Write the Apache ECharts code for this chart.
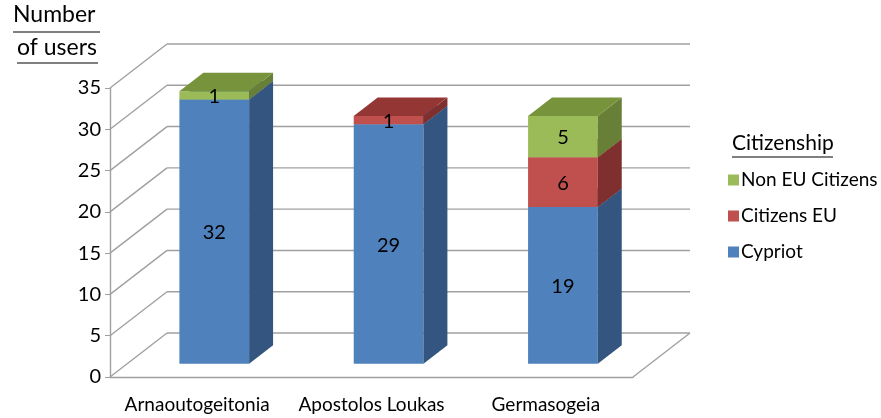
<!DOCTYPE html>
<html>
<head>
<meta charset="utf-8">
<script src="https://cdn.jsdelivr.net/npm/echarts@6/dist/echarts.min.js"></script>
<style>
  html, body { margin: 0; padding: 0; background: #fff; }
  #main { width: 881px; height: 418px; }
</style>
</head>
<body>
<div id="main"></div>
<script>
// data
var categories = ['Arnaoutogeitonia', 'Apostolos Loukas', 'Germasogeia'];
var cypriot = [32, 29, 19];
var citizensEU = [0, 1, 6];
var nonEU = [1, 0, 5];
var yTicks = [0, 5, 10, 15, 20, 25, 30, 35];

// 3D look: offset of the back wall, bar depth from front
var DEPTH_X = 57, DEPTH_Y = -44;
var BAR_FRONT = 0.3, BAR_BACK = 0.72;
var FONT = 'Lato, "Liberation Sans", sans-serif';

var chart = echarts.init(document.getElementById('main'));

// stacked segments: [categoryIndex, base, top, value]
function segments(vals, bases) {
  var out = [];
  for (var i = 0; i < vals.length; i++) {
    out.push([i, bases[i], bases[i] + vals[i], vals[i]]);
  }
  return out;
}
var base0 = [0, 0, 0];
var base1 = cypriot.slice();
var base2 = cypriot.map(function (v, i) { return v + citizensEU[i]; });

function barRenderer(front, side, top) {
  return function (params, api) {
    var v = api.value(3);
    if (!v) return null;
    var c = api.value(0);
    var bw = api.size([1, 0])[0] * 0.4;
    var p0 = api.coord([c, api.value(1)]);
    var p1 = api.coord([c, api.value(2)]);
    var fx = DEPTH_X * BAR_FRONT, fy = DEPTH_Y * BAR_FRONT;
    var dx = DEPTH_X * (BAR_BACK - BAR_FRONT), dy = DEPTH_Y * (BAR_BACK - BAR_FRONT);
    var xl = p0[0] - bw / 2 + fx, xr = p0[0] + bw / 2 + fx;
    var yb = p0[1] + fy, yt = p1[1] + fy;
    return {
      type: 'group',
      children: [
        { type: 'rect', shape: { x: xl, y: yt, width: xr - xl, height: yb - yt }, style: { fill: front } },
        { type: 'polygon', shape: { points: [[xr, yt], [xr + dx, yt + dy], [xr + dx, yb + dy], [xr, yb]] }, style: { fill: side } },
        { type: 'polygon', shape: { points: [[xl, yt], [xl + dx, yt + dy], [xr + dx, yt + dy], [xr, yt]] }, style: { fill: top } },
        { type: 'text', style: { text: String(v), x: (xl + xr) / 2, y: (yt + yb) / 2 + 1, align: 'center', verticalAlign: 'middle', fill: '#000', font: '20px ' + FONT } }
      ]
    };
  };
}

function wallRenderer(params, api) {
  var cs = params.coordSys;
  var v = api.value(0);
  var y = api.coord([0, v])[1];
  var xL = cs.x, xR = cs.x + cs.width;
  var ls = { stroke: '#a0a0a0', lineWidth: 1.4 };
  var kids = [
    { type: 'line', shape: { x1: xL, y1: y, x2: xL + DEPTH_X, y2: y + DEPTH_Y }, style: ls },
    { type: 'line', shape: { x1: xL + DEPTH_X, y1: y + DEPTH_Y, x2: xR + DEPTH_X, y2: y + DEPTH_Y }, style: ls }
  ];
  if (v === 0) {
    kids.push({ type: 'line', shape: { x1: xR, y1: y, x2: xR + DEPTH_X, y2: y + DEPTH_Y }, style: ls });
  }
  return { type: 'group', children: kids };
}

chart.setOption({
  animation: false,
  textStyle: { fontFamily: FONT },
  grid: { left: 110, right: 248, top: 88, bottom: 41 },
  legend: {
    orient: 'vertical',
    left: 728, top: 168, padding: 0,
    itemWidth: 11, itemHeight: 11, itemGap: 12,
    icon: 'rect',
    data: ['Non EU Citizens', 'Citizens EU', 'Cypriot'],
    textStyle: { fontSize: 19, lineHeight: 24, color: '#000', fontFamily: FONT, padding: [0, 0, 0, -3] }
  },
  xAxis: {
    type: 'category',
    data: categories,
    axisLine: { lineStyle: { color: '#a0a0a0', width: 1.4 } },
    axisTick: { lineStyle: { color: '#a0a0a0' }, length: 5 },
    axisLabel: { color: '#000', fontSize: 19, margin: 18, interval: 0, hideOverlap: false, fontFamily: FONT }
  },
  yAxis: {
    type: 'value',
    min: 0, max: 35, interval: 5,
    axisLine: { show: true, lineStyle: { color: '#a0a0a0', width: 1.4 } },
    axisTick: { show: true, length: 5, lineStyle: { color: '#a0a0a0' } },
    splitLine: { show: false },
    axisLabel: { color: '#000', fontSize: 20, margin: 9, fontFamily: FONT }
  },
  graphic: [
    { type: 'text', left: 13, top: 3, style: { text: 'Number', font: '23px ' + FONT, fill: '#000' } },
    { type: 'text', left: 17, top: 36, style: { text: 'of users', font: '23px ' + FONT, fill: '#000' } },
    { type: 'line', shape: { x1: 13, y1: 32, x2: 100, y2: 32 }, style: { stroke: '#000', lineWidth: 1.2 } },
    { type: 'line', shape: { x1: 17, y1: 63, x2: 98, y2: 63 }, style: { stroke: '#000', lineWidth: 1.2 } },
    { type: 'text', left: 732, top: 133, style: { text: 'Citizenship', font: '21px ' + FONT, fill: '#000' } },
    { type: 'line', shape: { x1: 732, y1: 157, x2: 833, y2: 157 }, style: { stroke: '#000', lineWidth: 1.1 } }
  ],
  series: [
    {
      name: 'walls', type: 'custom', silent: true,
      data: yTicks.map(function (t) { return [t]; }),
      encode: { y: 0 },
      renderItem: wallRenderer, z: 1
    },
    {
      name: 'Cypriot', type: 'custom', z: 3,
      itemStyle: { color: '#4F81BD' },
      data: segments(cypriot, base0),
      encode: { x: 0, y: [1, 2] },
      renderItem: barRenderer('#4F81BD', '#34557F', '#3B6193')
    },
    {
      name: 'Citizens EU', type: 'custom', z: 3,
      itemStyle: { color: '#C0504D' },
      data: segments(citizensEU, base1),
      encode: { x: 0, y: [1, 2] },
      renderItem: barRenderer('#C0504D', '#7F2F2E', '#943634')
    },
    {
      name: 'Non EU Citizens', type: 'custom', z: 3,
      itemStyle: { color: '#9BBB59' },
      data: segments(nonEU, base2),
      encode: { x: 0, y: [1, 2] },
      renderItem: barRenderer('#9BBB59', '#677F37', '#77933C')
    }
  ]
});
</script>
</body>
</html>
